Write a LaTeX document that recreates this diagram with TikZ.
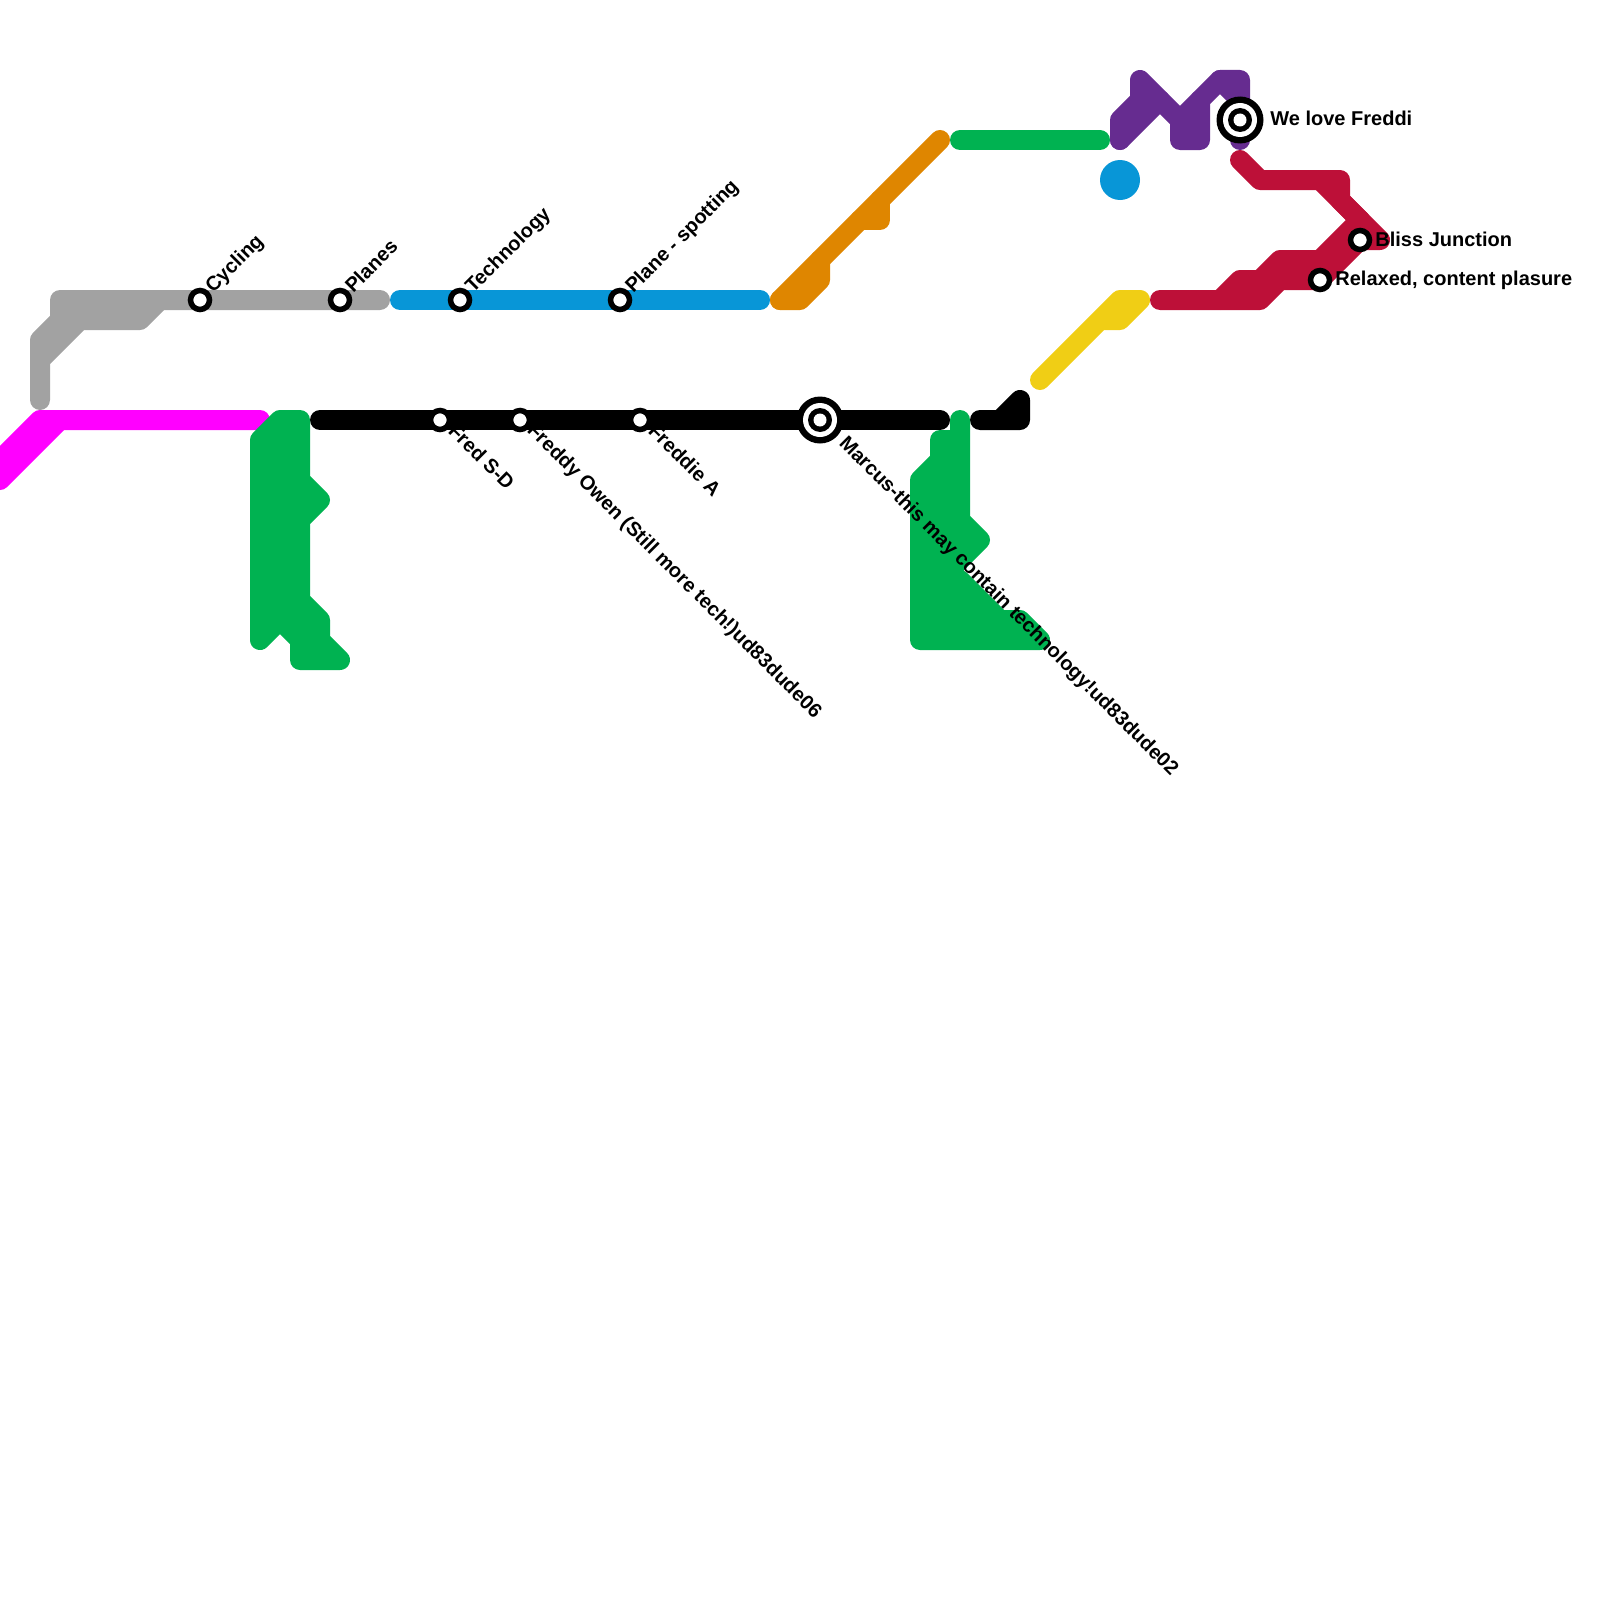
\documentclass[tikz,border=0pt]{standalone}
\usepackage{fontspec}
\setmainfont{Liberation Sans}[BoldFont={Liberation Sans Bold}]
\tikzset{
  x=0.5pt,y=-0.5pt,
  metro/.style={line width=10pt,line cap=round,line join=round},
  blob/.style={metro,fill},
  stationmark/.style={circle,draw=black,fill=white,line width=2.75pt,minimum size=9.5pt,inner sep=0pt,outer sep=0pt},
  lbl/.style={font=\fontsize{10pt}{11pt}\selectfont\bfseries,inner sep=0pt,text=black},
  upl/.style={lbl,rotate=45,anchor=base west},
  dnl/.style={lbl,rotate=-45,anchor=base west},
  rtl/.style={lbl,anchor=west},
}
\definecolor{mgrey}{HTML}{A2A2A2}
\definecolor{mblue}{HTML}{0896D7}
\definecolor{mmag}{HTML}{FF00FF}
\definecolor{mgreen}{HTML}{00B251}
\definecolor{morange}{HTML}{DF8600}
\definecolor{mpurple}{HTML}{662C90}
\definecolor{mred}{HTML}{BD1038}
\definecolor{myellow}{HTML}{F0CE15}
\newcommand{\interch}[2]{%
  \node[circle,fill=black,minimum size=23.5pt,inner sep=0pt] (#1) at #2 {};
  \node[circle,fill=white,minimum size=17pt,inner sep=0pt] at #2 {};
  \node[circle,fill=black,minimum size=12pt,inner sep=0pt] at #2 {};
  \node[circle,fill=white,minimum size=6.5pt,inner sep=0pt] at #2 {};
}
\begin{document}
\begin{tikzpicture}
\useasboundingbox (0,0) rectangle (1600,1600);
\begin{scope}
\clip (0,0) rectangle (1600,1600);
% grey
\draw[metro,mgrey] (40,400)--(40,360)--(80,320)--(140,320)--(160,300);
\draw[metro,mgrey] (40,360)--(40,340)--(60,320)--(60,300)--(380,300);
\fill[mgrey] (60,300) rectangle (140,320);
% blue
\draw[metro,mblue] (400,300)--(760,300);
% magenta
\draw[metro,mmag] (0,460)--(40,420)--(260,420);
\draw[metro,mmag] (0,480)--(60,420);
% black
\draw[metro,black] (320,420)--(940,420);
\draw[metro,black] (980,420)--(1020,420)--(1020,400)--(1000,420);
% green
\draw[blob,mgreen] (280,420)--(300,420)--(300,480)--(320,500)--(300,520)--(300,600)--(320,620)--(320,640)--(340,660)--(300,660)--(300,640)--(280,620)--(260,640)--(260,440)--cycle;
\draw[blob,mgreen] (960,420)--(960,520)--(980,540)--(940,580)--(960,580)--(1000,620)--(1020,620)--(1040,640)--(920,640)--(920,480)--(940,460)--(940,440)--(960,440)--cycle;
\draw[metro,mgreen] (960,140)--(1100,140);
% orange
\draw[metro,morange] (780,300)--(940,140);
\draw[metro,morange] (780,300)--(800,300)--(820,280)--(820,260);
\draw[metro,morange] (880,200)--(880,220)--(860,220);
\fill[morange] (800,280)--(820,260)--(820,280)--(800,300)--cycle;
% purple
\draw[metro,mpurple] (1120,140)--(1120,120)--(1140,100)--(1140,80)--(1180,120)--(1180,140)--(1200,140)--(1200,100)--(1220,80)--(1240,80)--(1240,140);
\draw[metro,mpurple] (1120,140)--(1160,100);
\draw[metro,mpurple] (1180,120)--(1200,100);
\draw[metro,mpurple] (1220,80)--(1240,100);
% blue dot
\fill[mblue] (1120,180) circle[radius=20];
% yellow
\draw[metro,myellow] (1040,380)--(1120,300)--(1140,300)--(1120,320)--(1100,320);
% red
\draw[metro,mred] (1240,160)--(1260,180)--(1340,180)--(1340,200)--(1380,240)--(1360,240);
\draw[metro,mred] (1320,180)--(1360,220);
\draw[metro,mred] (1160,300)--(1260,300)--(1280,280)--(1320,280)--(1360,240);
\draw[metro,mred] (1220,300)--(1240,280)--(1260,280)--(1280,260)--(1320,260)--(1360,220)--(1360,240);
\end{scope}
% stations
\node[stationmark] (cyc) at (200,300) {};
\node[stationmark] (pla) at (340,300) {};
\node[stationmark] (tec) at (460,300) {};
\node[stationmark] (spo) at (620,300) {};
\node[stationmark] (fsd) at (440,420) {};
\node[stationmark] (fow) at (520,420) {};
\node[stationmark] (fra) at (640,420) {};
\interch{mar}{(820,420)}
\interch{wlf}{(1240,120)}
\node[stationmark] (bli) at (1360,240) {};
\node[stationmark] (rel) at (1320,280) {};
% labels
\node[upl] at (213,294) {Cycling};
\node[upl] at (353,294) {Planes};
\node[upl] at (473,294) {Technology};
\node[upl] at (633,294) {Plane - spotting};
\node[dnl] at (447,432) {Fred S-D};
\node[dnl] at (526,431) {Freddy Owen (Still more tech!)ud83dude06};
\node[dnl] at (838,444) {Marcus-this may contain technology!ud83dude02};
\node[dnl] at (647,432) {Freddie A};
\node[rtl] at (1270,118) {We love Freddi};
\node[rtl] at (1375,239) {Bliss Junction};
\node[rtl] at (1335,280) {Relaxed, content plasure};
\end{tikzpicture}
\end{document}
